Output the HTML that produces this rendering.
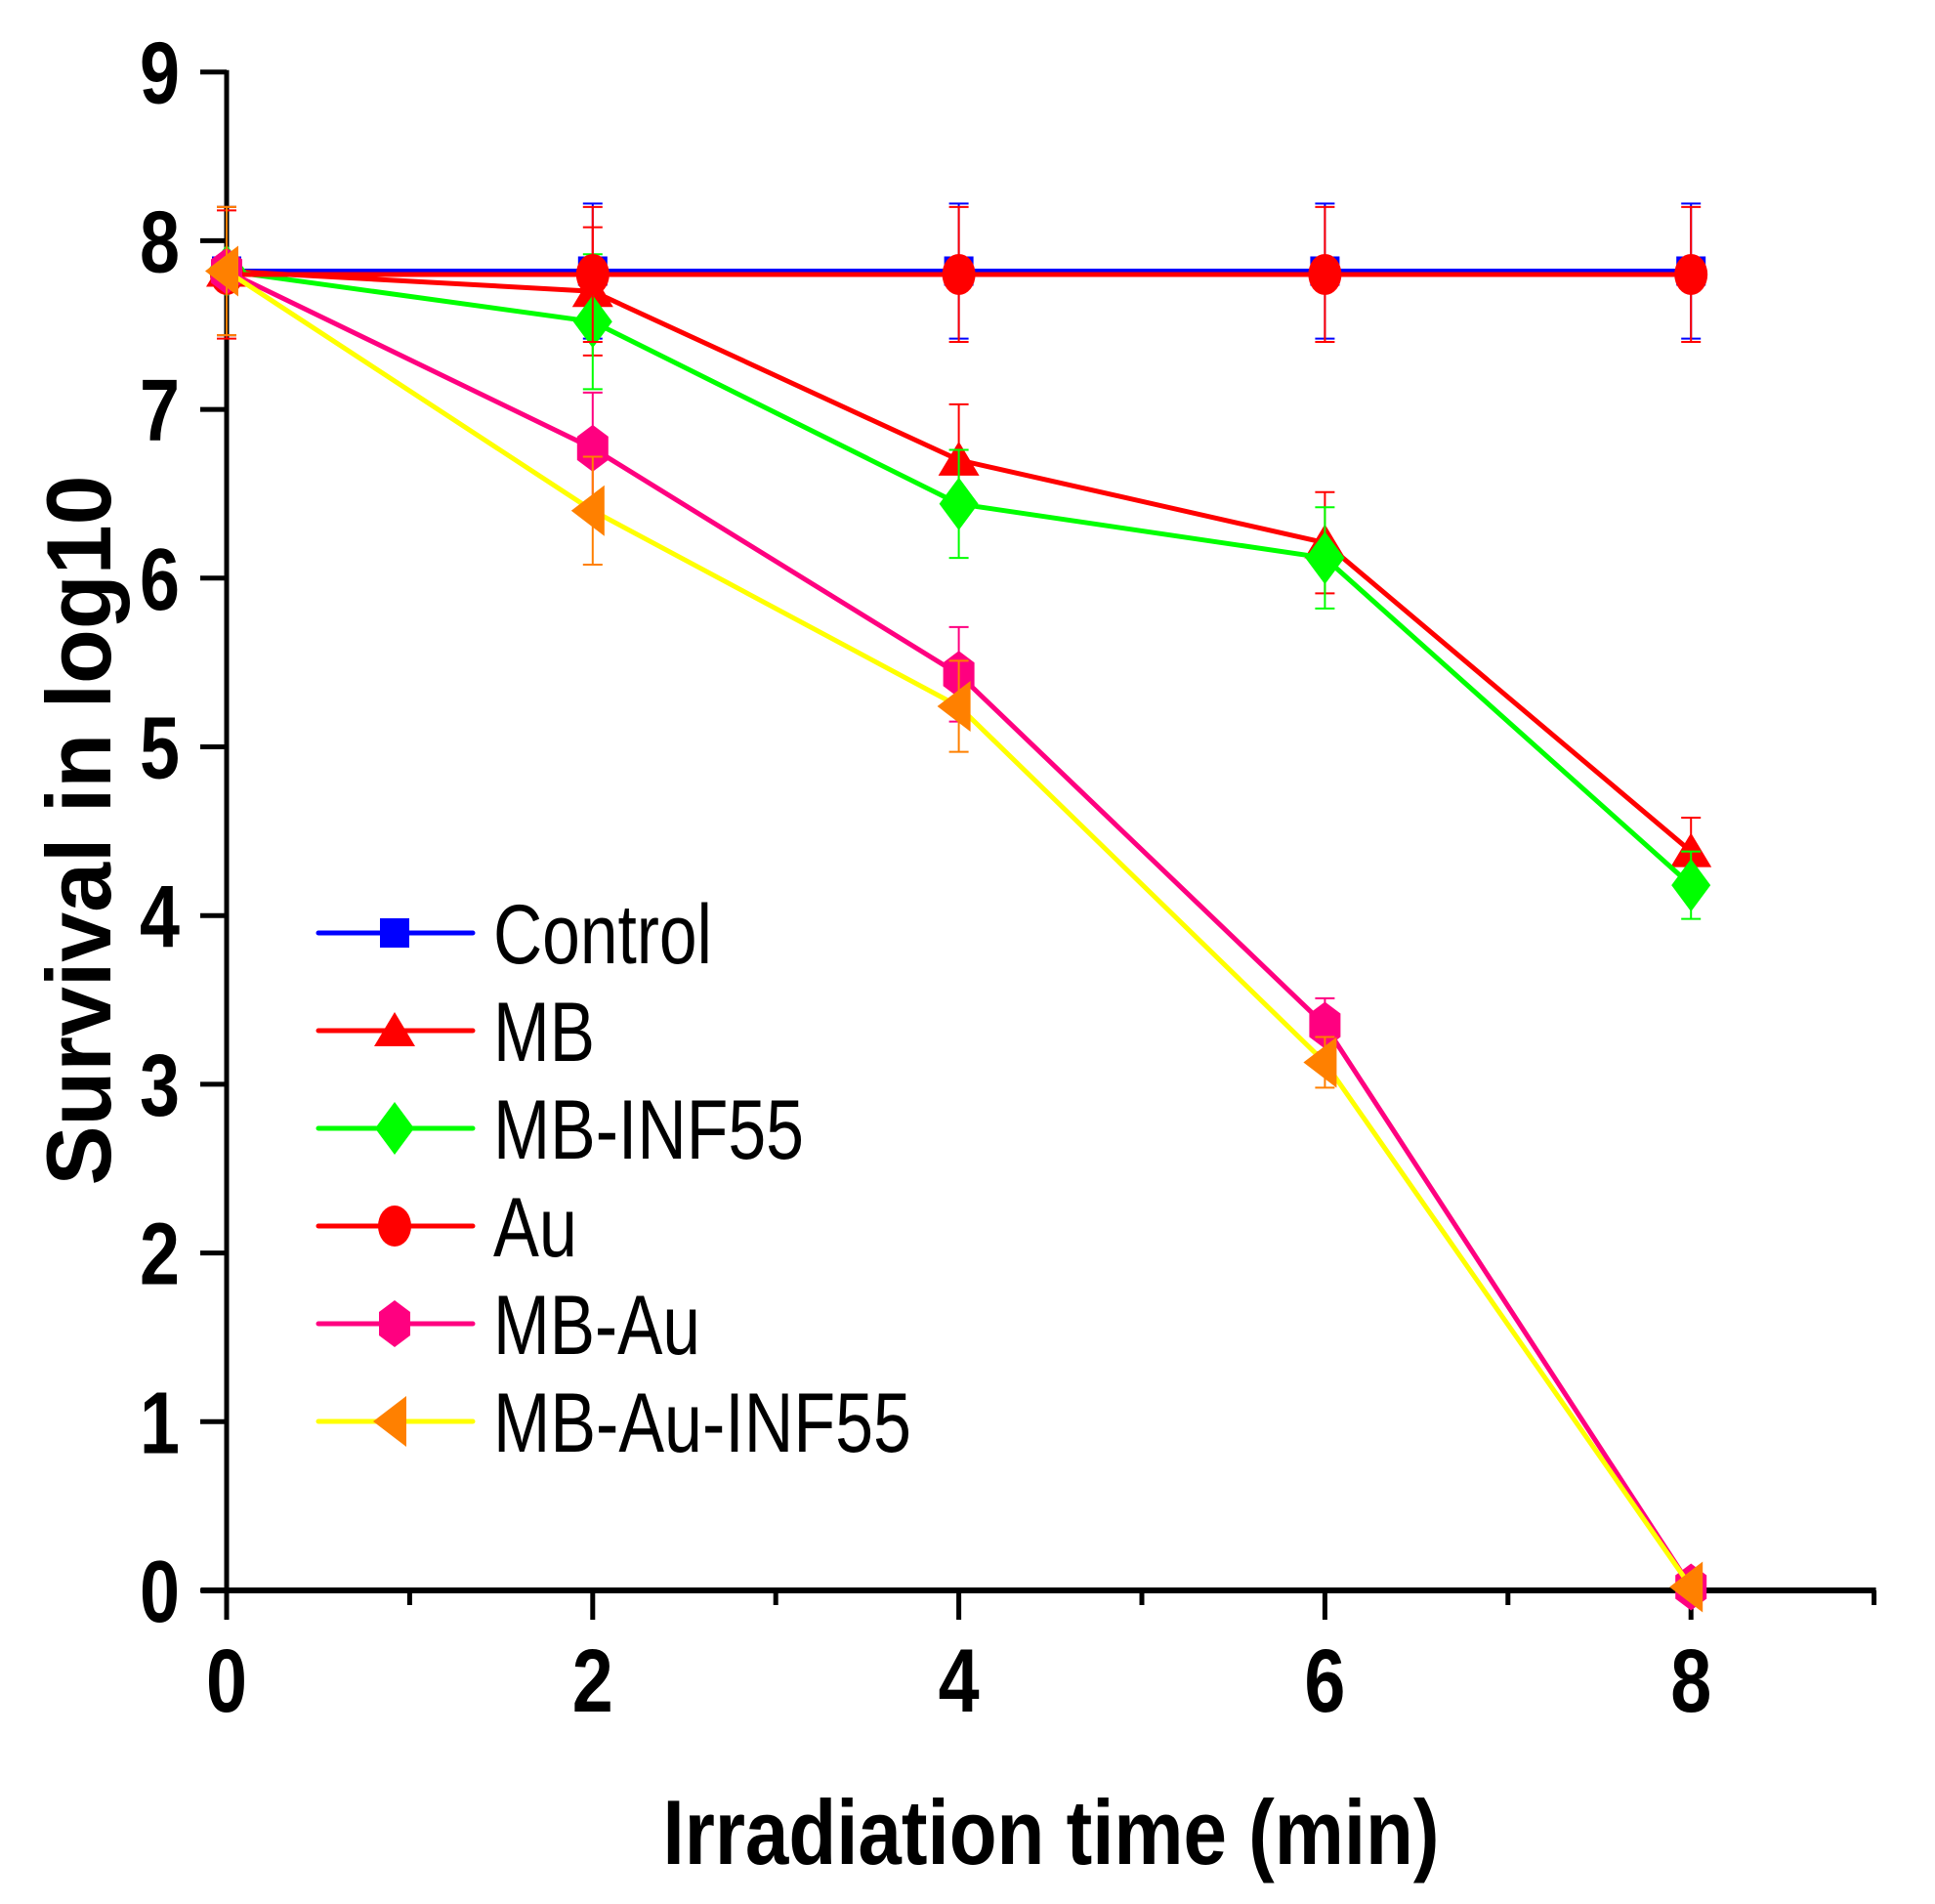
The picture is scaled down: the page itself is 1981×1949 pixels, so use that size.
<!DOCTYPE html>
<html><head><meta charset="utf-8"><style>
html,body{margin:0;padding:0;background:#fff;}
svg{display:block;}
text{font-family:"Liberation Sans",sans-serif;}
</style></head>
<body>
<svg id="chart" width="1981" height="1949" viewBox="0 0 1981 1949" xmlns="http://www.w3.org/2000/svg">
<g id="axes"></g>
<g id="series"></g>
<g id="legend"></g>
<text x="1076" y="1908" text-anchor="middle" font-weight="bold" font-size="94" textLength="795" lengthAdjust="spacingAndGlyphs">Irradiation time (min)</text>
<text transform="translate(113,850) rotate(-90)" x="0" y="0" text-anchor="middle" font-weight="bold" font-size="94" textLength="727" lengthAdjust="spacingAndGlyphs">Survival in log10</text>
</svg>
<script>
const xValues = [0, 2, 4, 6, 8];
const xTicks = [0, 2, 4, 6, 8];
const yTicks = [0, 1, 2, 3, 4, 5, 6, 7, 8, 9];
const seriesNames = ["Control", "MB", "MB-INF55", "Au", "MB-Au", "MB-Au-INF55"];
const controlVals = [7.82, 7.82, 7.82, 7.82, 7.82];
const controlErr = [0.38, 0.4, 0.4, 0.4, 0.4];
const mbVals = [7.82, 7.7, 6.7, 6.21, 4.38];
const mbErr = [0.38, 0.38, 0.33, 0.3, 0.2];
const mbInfVals = [7.82, 7.52, 6.44, 6.12, 4.18];
const mbInfErr = [0.38, 0.4, 0.32, 0.3, 0.2];
const auVals = [7.8, 7.8, 7.8, 7.8, 7.8];
const auErr = [0.38, 0.4, 0.4, 0.4, 0.4];
const mbAuVals = [7.82, 6.77, 5.43, 3.35, 0.02];
const mbAuErr = [0.38, 0.33, 0.28, 0.16, 0];
const mbAuInfVals = [7.82, 6.4, 5.24, 3.13, 0.02];
const mbAuInfErr = [0.38, 0.32, 0.27, 0.15, 0];

const X0 = 232, XU = 187.4, Y0 = 1628, YU = 172.7;
function xs(v){ return X0 + v*XU; }
function ys(v){ return Y0 - v*YU; }
const NS = "http://www.w3.org/2000/svg";
function mk(tag, attrs, parent){
  const e = document.createElementNS(NS, tag);
  for (const k in attrs) e.setAttribute(k, attrs[k]);
  parent.appendChild(e); return e;
}
const axes = document.getElementById('axes');
let el;
el = mk('line', {x1:X0, y1:ys(9)-2, x2:X0, y2:Y0+3, stroke:'#000','stroke-width':5}, axes);


el = mk('line', {x1:X0-26, y1:Y0, x2:xs(9)+2, y2:Y0, stroke:'#000','stroke-width':6}, axes);


yTicks.forEach(t => {
  el = mk('line', {x1:X0-27, y1:ys(t), x2:X0, y2:ys(t), stroke:'#000','stroke-width':5}, axes);
  
  
  const tx = mk('text', {x:184, y:ys(t)+32, 'text-anchor':'end','font-weight':'bold','font-size':90}, axes);
  tx.textContent = String(t);
  tx.setAttribute('textLength', 41);
  tx.setAttribute('lengthAdjust', 'spacingAndGlyphs');
  
  
});
for (let m = 1; m <= 9; m += 2) {
  el = mk('line', {x1:xs(m), y1:Y0, x2:xs(m), y2:Y0+15, stroke:'#000','stroke-width':5}, axes);
  
  
}
xTicks.forEach(t => {
  el = mk('line', {x1:xs(t), y1:Y0, x2:xs(t), y2:Y0+30, stroke:'#000','stroke-width':5}, axes);
  
  
  const tx = mk('text', {x:xs(t), y:1752, 'text-anchor':'middle','font-weight':'bold','font-size':92}, axes);
  tx.textContent = String(t);
  tx.setAttribute('textLength', 42);
  tx.setAttribute('lengthAdjust', 'spacingAndGlyphs');
  
  
});

function marker(type, cx, cy, fill, parent){
  let m;
  const s = 15;
  if (type==='square') m = mk('rect', {x:cx-s, y:cy-s, width:2*s, height:2*s, fill:fill}, parent);
  else if (type==='triangle') m = mk('polygon', {points:`${cx},${cy-19} ${cx-21},${cy+16} ${cx+21},${cy+16}`, fill:fill}, parent);
  else if (type==='diamond') m = mk('polygon', {points:`${cx},${cy-27} ${cx+20},${cy} ${cx},${cy+27} ${cx-20},${cy}`, fill:fill}, parent);
  else if (type==='circle') m = mk('ellipse', {cx:cx, cy:cy, rx:17, ry:21, fill:fill}, parent);
  else if (type==='hexagon') m = mk('polygon', {points:`${cx},${cy-24} ${cx+16},${cy-12} ${cx+16},${cy+12} ${cx},${cy+24} ${cx-16},${cy+12} ${cx-16},${cy-12}`, fill:fill}, parent);
  else m = mk('polygon', {points:`${cx-22},${cy} ${cx+12},${cy-26} ${cx+12},${cy+26}`, fill:fill}, parent);
  return m;
}

const seriesDefs = [
  {vals:controlVals, err:controlErr, line:'#0000ff', mk:'square', fill:'#0000ff', ebar:'#0000ff'},
  {vals:mbVals, err:mbErr, line:'#ff0000', mk:'triangle', fill:'#ff0000', ebar:'#ff0000'},
  {vals:mbInfVals, err:mbInfErr, line:'#00ff00', mk:'diamond', fill:'#00ff00', ebar:'#00ff00'},
  {vals:auVals, err:auErr, line:'#ff0000', mk:'circle', fill:'#ff0000', ebar:'#ff0000'},
  {vals:mbAuVals, err:mbAuErr, line:'#ff0080', mk:'hexagon', fill:'#ff0080', ebar:'#ff0080'},
  {vals:mbAuInfVals, err:mbAuInfErr, line:'#ffff00', mk:'lefttri', fill:'#ff8000', ebar:'#ff8000'}
];
const sl = document.getElementById('series');
seriesDefs.forEach((s, i) => {
  const g = mk('g', {}, sl);
  
  
  s.vals.forEach((v, j) => {
    const e = s.err[j];
    if (e > 0) {
      const x = xs(xValues[j]);
      const p = mk('path', {d:`M${x-10},${ys(v+e)}H${x+10}M${x},${ys(v+e)}V${ys(v-e)}M${x-10},${ys(v-e)}H${x+10}`, stroke:s.ebar, 'stroke-width':2, fill:'none'}, g);
      
      
    }
  });
  const pts = s.vals.map((v, j) => xs(xValues[j]) + ',' + ys(v)).join(' ');
  const pl = mk('polyline', {points:pts, fill:'none', stroke:s.line, 'stroke-width':5}, g);
  
  
  s.vals.forEach((v, j) => {
    const m = marker(s.mk, xs(xValues[j]), ys(v), s.fill, g);
    
    
  });
});

const lg = document.getElementById('legend');
const legendWidths = [224, 104, 318, 86, 212, 428];
seriesDefs.forEach((s, i) => {
  const y = 955 + i*100;
  const g = mk('g', {}, lg);
  
  
  mk('line', {x1:326, y1:y, x2:484, y2:y, stroke:s.line, 'stroke-width':5, 'stroke-linecap':'round'}, g);
  marker(s.mk, 404, y, s.fill, g);
  const t = mk('text', {x:505, y:y+31, 'font-size':86}, g);
  t.textContent = seriesNames[i];
  t.setAttribute('textLength', legendWidths[i]);
  t.setAttribute('lengthAdjust', 'spacingAndGlyphs');
});
</script>
</body></html>
